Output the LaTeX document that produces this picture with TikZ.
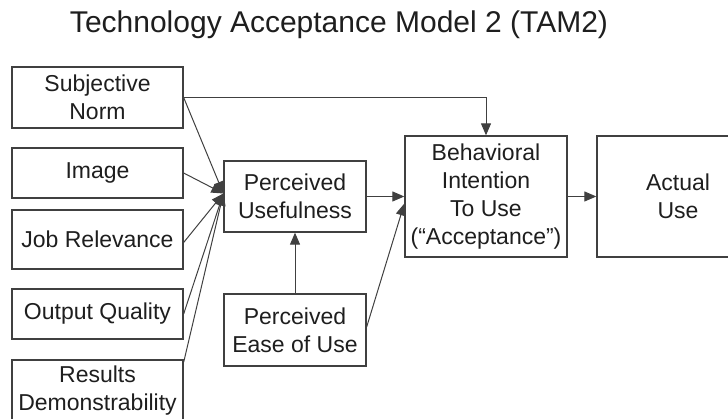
\documentclass[tikz,border=0pt]{standalone}
\usepackage{fontspec}
\setmainfont{Liberation Sans}
\usetikzlibrary{arrows.meta}
\definecolor{boxline}{HTML}{404040}
\definecolor{boxtext}{HTML}{1E1E1E}

\begin{document}
\begin{tikzpicture}[x=1pt, y=-1pt,
    box/.style={rectangle, draw=boxline, line width=1.3pt, align=center, text=boxtext,
                font=\fontsize{23}{28}\selectfont, inner sep=0pt},
    arr/.style={draw=boxline, line width=1pt, -{Triangle[length=12pt, width=10pt]}}]
    \useasboundingbox (0,0) rectangle (728,419);

    % Title
    \node [anchor=base, text=boxtext, font=\fontsize{30}{36}\selectfont] (title) at (339,33) {Technology Acceptance Model 2 (TAM2)};

    % Nodes
    \node [box, minimum width=171pt, minimum height=61pt] (SN) at (97.5,97.5) {Subjective\\Norm};
    \node [box, minimum width=171pt, minimum height=50pt] (IM) at (97.5,173) {Image};
    \node [box, minimum width=171pt, minimum height=59pt] (JR) at (97.5,239.5) {Job Relevance};
    \node [box, minimum width=171pt, minimum height=50pt] (OQ) at (97.5,314) {Output Quality};
    \node [box, minimum width=171pt, minimum height=61pt] (RD) at (97.5,390.5) {Results\\Demonstrability};
    \node [box, minimum width=142pt, minimum height=71pt] (PU) at (295,196.5) {Perceived\\Usefulness};
    \node [box, minimum width=142pt, minimum height=72pt] (PEOU) at (295,330) {Perceived\\Ease of Use};
    \node [box, minimum width=162pt, minimum height=121pt] (BI) at (486,196.5) {Behavioral\\Intention\\To Use\\(“Acceptance”)};
    \node [box, minimum width=162pt, minimum height=121pt] (AU) at (678,196.5) {Actual\\Use};

    \coordinate (puin) at ([yshift=3pt]PU.west);
    \coordinate (biin) at ([yshift=-7pt]BI.west);

    % Arrows
    \draw [arr] (SN.east) -- (puin);
    \draw [arr] (IM.east) -- (puin);
    \draw [arr] ([yshift=-3pt]JR.east) -- (puin);
    \draw [arr] (OQ.east) -- (puin);
    \draw [arr] ([yshift=-3pt]RD.north east) -- (puin);
    \draw [arr] (SN.east) -| (BI.north);
    \draw [arr] (PEOU.north) -- (PU.south);
    \draw [arr] (PU.east) -- (BI.west);
    \draw [arr] ([yshift=3pt]PEOU.east) -- (biin);
    \draw [arr] (BI.east) -- (AU.west);
\end{tikzpicture}
\end{document}
